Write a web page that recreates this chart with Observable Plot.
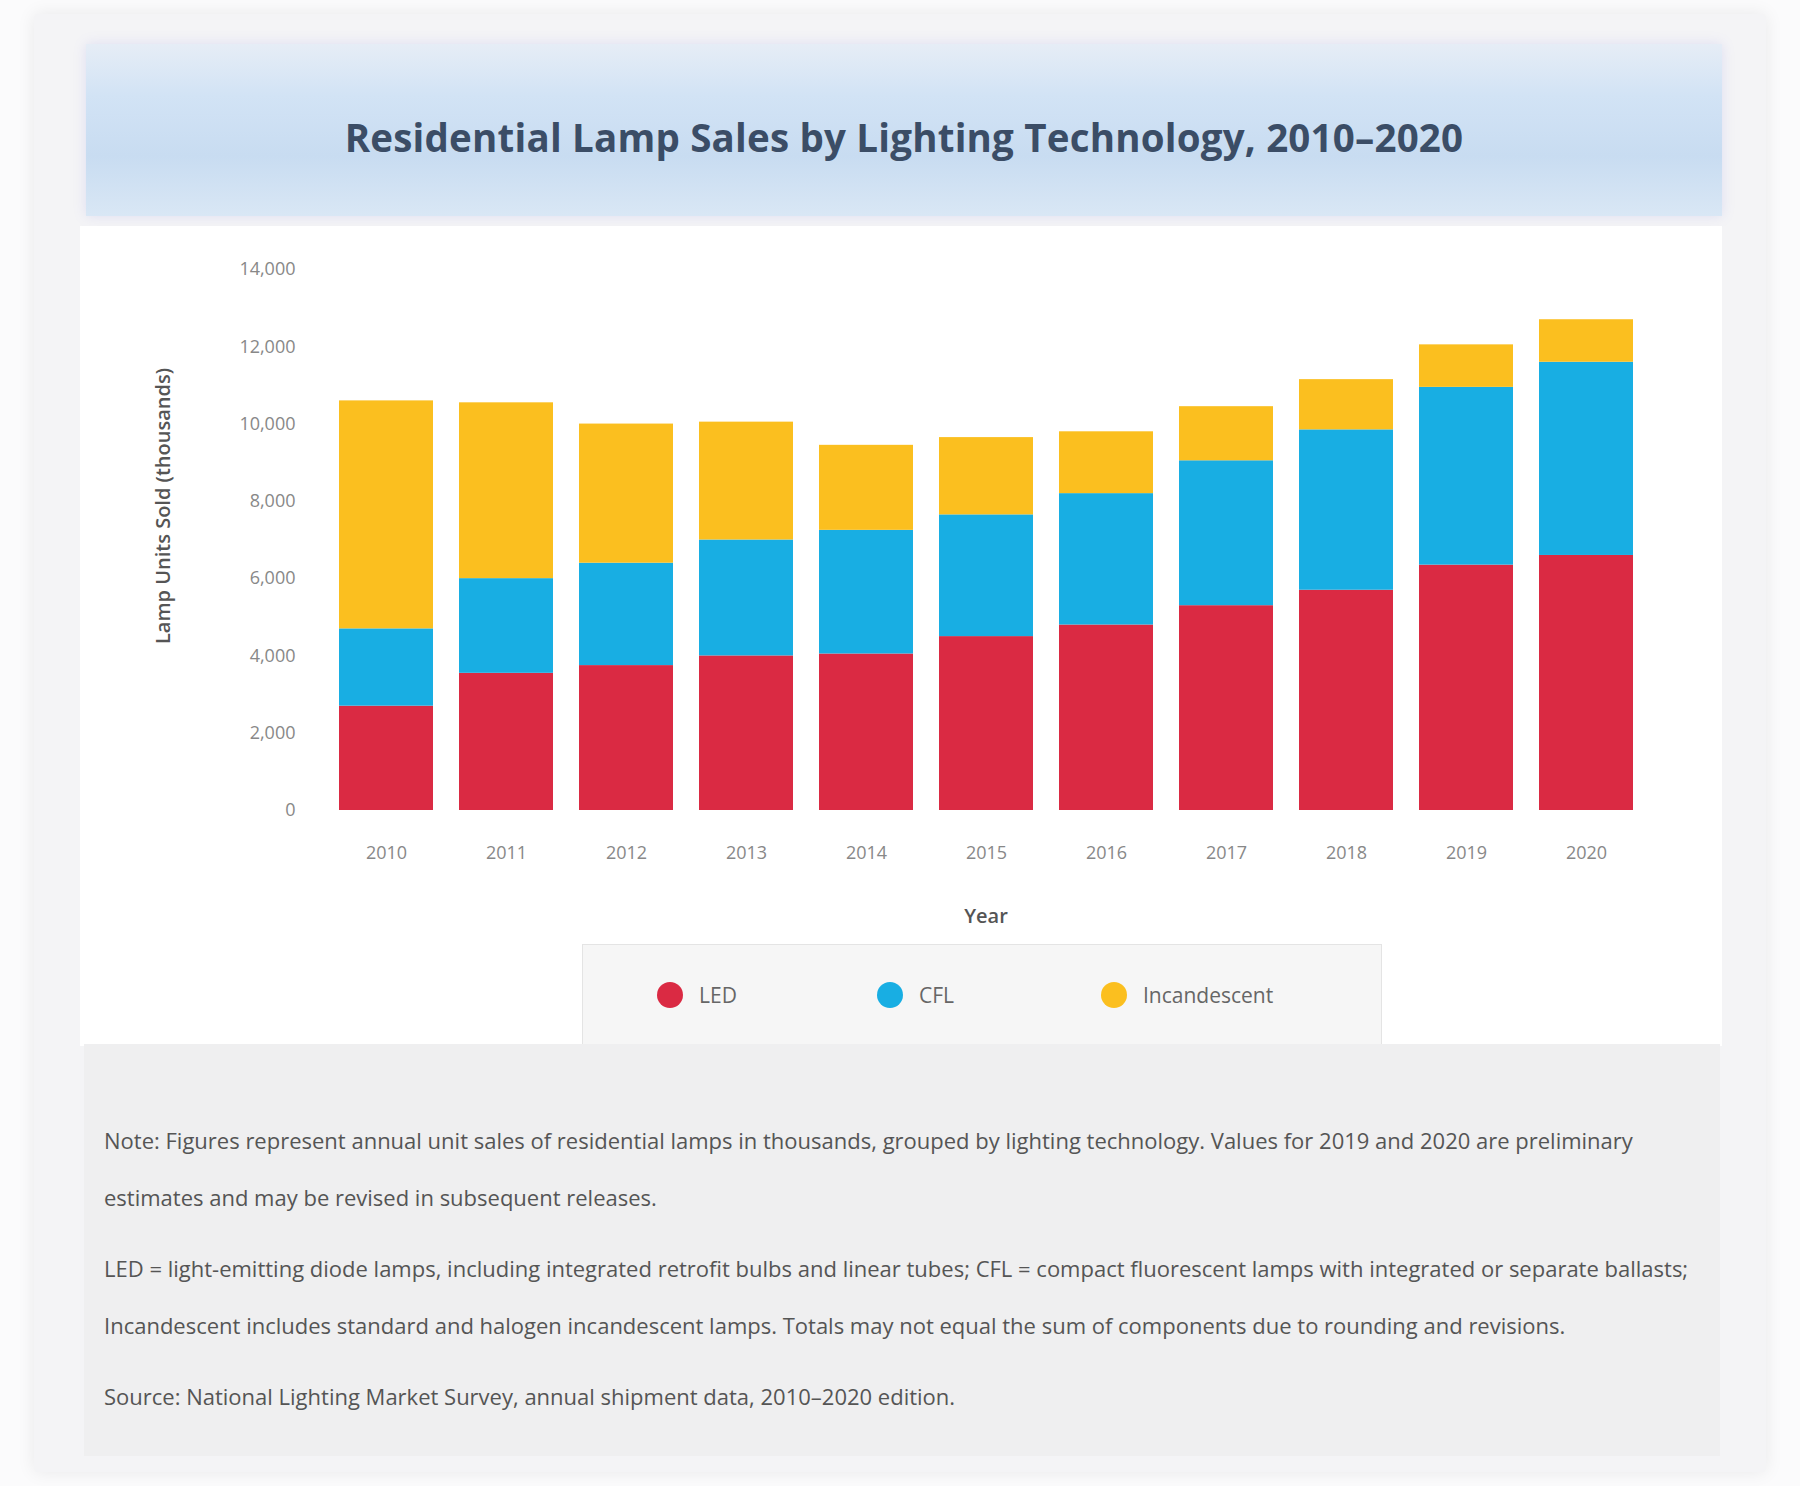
<!DOCTYPE html>
<html>
<head>
<meta charset="utf-8">
<script src="https://cdn.jsdelivr.net/npm/d3@7"></script>
<script src="https://cdn.jsdelivr.net/npm/@observablehq/plot@0.6"></script>
<style>
  html, body { margin: 0; padding: 0; }
  body { width: 1800px; height: 1486px; background: #fbfbfc; font-family: "Open Sans", sans-serif; position: relative; overflow: hidden; }
  #card { position: absolute; left: 34px; top: 14px; width: 1732px; height: 1458px; background: #f4f4f6; box-shadow: 0 0 18px rgba(0,0,0,0.08); border-radius: 4px; }
  #banner { position: absolute; left: 86px; top: 44px; width: 1636px; height: 172px;
    background: linear-gradient(180deg, #e6edf6 0%, #d2e3f5 30%, #c8dcf1 65%, #d9e7f5 100%);
    box-shadow: 0 0 12px rgba(130,130,230,0.18); box-sizing: border-box; padding-top: 14px;
    display: flex; align-items: center; justify-content: center; }
  #title { font-size: 38.5px; font-weight: 700; color: #3b4d66; letter-spacing: 0.2px; white-space: nowrap; }
  #chartbg { position: absolute; left: 80px; top: 226px; width: 1642px; height: 820px; background: #ffffff; }
  #plot { position: absolute; left: 80px; top: 240px; }
  #legend { position: absolute; left: 582px; top: 944px; width: 800px; height: 102px; background: #f6f6f6; border: 1px solid #e4e4e4; box-sizing: border-box; }
  .item { position: absolute; top: 0; height: 100px; display: flex; align-items: center; font-size: 21px; color: #666; }
  .sw { width: 26px; height: 26px; border-radius: 50%; margin-right: 16px; }
  #caption { position: absolute; left: 84px; top: 1044px; width: 1636px; height: 412px; background: #efeff0; box-sizing: border-box; padding: 68px 30px 0 20px; color: #555; font-size: 22px; line-height: 57px; }
  #caption p { margin: 0 0 14px 0; }
</style>
</head>
<body>
<div id="card"></div>
<div id="banner"><div id="title"></div></div>
<div id="chartbg"></div>
<div id="plot"></div>
<div id="legend"></div>
<div id="caption"></div>
<script>
// ---- data ----
const titleText = "Residential Lamp Sales by Lighting Technology, 2010–2020";
const years = ["2010", "2011", "2012", "2013", "2014", "2015", "2016", "2017", "2018", "2019", "2020"];
const seriesNames = ["LED", "CFL", "Incandescent"];
const seriesColors = ["#da2a43", "#18aee3", "#fbbf1f"];
const ledValues = [2700, 3550, 3750, 4000, 4050, 4500, 4800, 5300, 5700, 6350, 6600];
const cflValues = [2000, 2450, 2650, 3000, 3200, 3150, 3400, 3750, 4150, 4600, 5000];
const incandescentValues = [5900, 4550, 3600, 3050, 2200, 2000, 1600, 1400, 1300, 1100, 1100];
const yTicks = [0, 2000, 4000, 6000, 8000, 10000, 12000, 14000];
const yLabel = "Lamp Units Sold (thousands)";
const xLabel = "Year";
const captionParagraphs = [
  "Note: Figures represent annual unit sales of residential lamps in thousands, grouped by lighting technology. Values for 2019 and 2020 are preliminary estimates and may be revised in subsequent releases.",
  "LED = light-emitting diode lamps, including integrated retrofit bulbs and linear tubes; CFL = compact fluorescent lamps with integrated or separate ballasts; Incandescent includes standard and halogen incandescent lamps. Totals may not equal the sum of components due to rounding and revisions.",
  "Source: National Lighting Market Survey, annual shipment data, 2010–2020 edition."
];

// ---- build ----
document.getElementById("title").textContent = titleText;

const valuesBySeries = [ledValues, cflValues, incandescentValues];
const data = years.flatMap((yr, i) => seriesNames.map((s, k) => ({ year: yr, type: s, value: valuesBySeries[k][i] })));

const chart = Plot.plot({
  width: 1640,
  height: 690,
  marginLeft: 245,
  marginRight: 74,
  marginTop: 29,
  marginBottom: 120,
  style: { fontFamily: "Open Sans", fontSize: "18px", color: "#888", background: "transparent", overflow: "visible" },
  x: { domain: years, paddingInner: 0.22, paddingOuter: 0.11 },
  y: { domain: [0, 14000] },
  color: { domain: seriesNames, range: seriesColors },
  marks: [
    Plot.barY(data, { x: "year", y: "value", fill: "type", order: seriesNames }),
    Plot.axisY({ ticks: yTicks, tickFormat: d3.format(","), tickSize: 0, tickPadding: 30, label: yLabel, labelAnchor: "center", labelArrow: "none", labelOffset: 170, fontSize: 18 }),
    Plot.axisX({ tickSize: 0, tickPadding: 36, label: xLabel, labelAnchor: "center", labelArrow: "none", labelOffset: 112, fontSize: 18 })
  ]
});
document.getElementById("plot").appendChild(chart);

// style axis titles darker/bolder
chart.querySelectorAll("g[aria-label='y-axis label'] text, g[aria-label='x-axis label'] text").forEach(t => {
  t.setAttribute("fill", "#555"); t.style.fontSize = "20px"; t.style.fontWeight = "600";
});
// the y title sits a little above the frame's middle in the reference
chart.querySelectorAll("g[aria-label='y-axis label'] text").forEach(t => {
  t.setAttribute("transform", "translate(0,-34) " + (t.getAttribute("transform") || ""));
});

// legend from the same arrays
const legend = document.getElementById("legend");
const itemLeft = [74, 294, 518];
seriesNames.forEach((s, k) => {
  const it = document.createElement("div");
  it.className = "item";
  it.style.left = itemLeft[k] + "px";
  it.innerHTML = `<span class="sw" style="background:${seriesColors[k]}"></span><span>${s}</span>`;
  legend.appendChild(it);
});

// caption
const cap = document.getElementById("caption");
captionParagraphs.forEach(p => { const el = document.createElement("p"); el.textContent = p; cap.appendChild(el); });
</script>
</body>
</html>
